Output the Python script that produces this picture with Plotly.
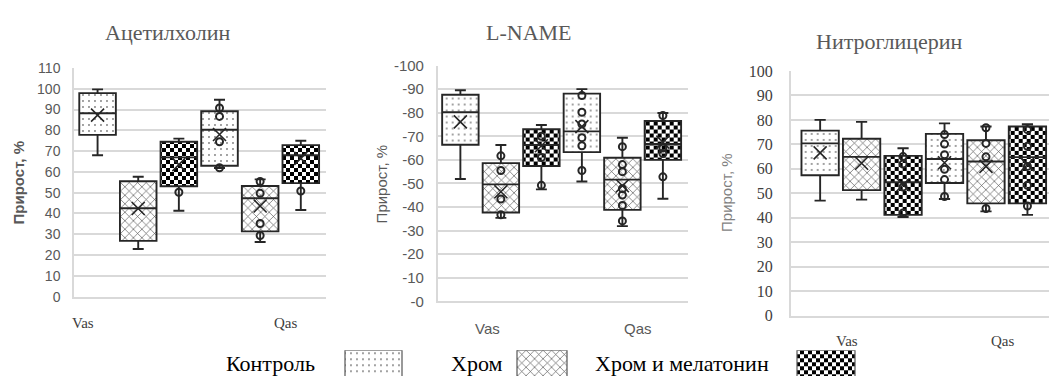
import plotly.graph_objects as go

# ---- data -------------------------------------------------------------
SERIES = ["Контроль", "Хром", "Хром и мелатонин"]
GROUPS = ["Vas", "Qas"]
PANELS = ["Ацетилхолин", "L-NAME", "Нитроглицерин"]

# Each stat list: one row per series, one value per group (Vas, Qas)
ach_low = [[68.0, 61.9], [22.9, 26.3], [41.3, 41.7]]
ach_q1 = [[77.8, 63.0], [26.8, 31.4], [53.1, 54.6]]
ach_med = [[88.2, 80.3], [42.5, 47.3], [67.0, 68.0]]
ach_q3 = [[97.9, 89.2], [55.5, 53.2], [74.5, 72.9]]
ach_high = [[99.7, 94.7], [57.7, 56.4], [76.0, 75.0]]
ach_mean = [[87.3, 78.0], [42.4, 43.6], [63.5, 66.5]]
ach_pts = [[[], [90.8, 86.7, 74.5, 62.0]],
           [[], [55.4, 49.7, 35.2, 29.4]],
           [[50.2], [50.8]]]

lname_low = [[-89.5, -90.0], [-66.3, -69.4], [-74.8, -79.9]]
lname_q1 = [[-87.6, -88.1], [-58.6, -60.9], [-73.0, -76.5]]
lname_med = [[-80.2, -72.1], [-49.6, -51.6], [-66.3, -66.7]]
lname_q3 = [[-66.4, -63.3], [-37.7, -38.8], [-57.4, -60.0]]
lname_high = [[-51.9, -50.8], [-35.4, -31.9], [-47.5, -43.5]]
lname_mean = [[-76.1, -74.1], [-46.5, -49.0], [-66.0, -67.5]]
lname_pts = [[[], [-87.3, -80.2, -75.2, -69.4, -66.0, -55.5]],
             [[-61.7, -55.5, -43.4, -36.7], [-65.6, -58.0, -55.0, -47.8, -45.1, -40.7, -34.1]],
             [[-49.2, -61.0, -70.0], [-78.8, -65.0, -62.7, -52.8]]]

ntg_low = [[47.0, 47.7], [47.4, 42.6], [40.3, 41.2]]
ntg_q1 = [[57.4, 54.2], [51.3, 45.9], [41.2, 45.9]]
ntg_med = [[70.4, 64.0], [64.9, 63.0], [54.5, 64.8]]
ntg_q3 = [[75.6, 74.3], [72.3, 71.7], [65.3, 77.3]]
ntg_high = [[80.0, 78.6], [79.2, 77.3], [68.4, 78.2]]
ntg_mean = [[66.5, 62.5], [62.3, 61.0], [53.5, 61.7]]
ntg_pts = [[[], [74.0, 70.1, 65.8, 59.8, 55.6, 48.7]],
           [[], [76.8, 70.4, 64.9, 43.8]],
           [[65.0, 62.0, 52.6, 42.0], [76.0, 69.2, 61.0, 53.3, 44.8]]]

Y_TICKS_ACH = list(range(0, 111, 10))
Y_TICKS_LNAME = list(range(0, -101, -10))
Y_TICKS_NTG = list(range(0, 101, 10))

# ---- styling -----------------------------------------------------------
W, H = 1049, 385
INK = "#262626"
GRID = "#d9d9d9"
PATTERNS = [
    dict(shape=".", size=6, solidity=0.045, fgcolor="#111111", bgcolor="white", fillmode="replace"),
    dict(shape="x", size=6, solidity=0.2, fgcolor="#4d4d4d", bgcolor="white", fillmode="replace"),
    dict(path="M0,0H4V4H0ZM4,4H8V8H4Z", size=8, fgcolor="#000000", bgcolor="white", fillmode="replace"),
]


def xdom(a, b):
    return [a / W, b / W]


def ydom(top, bottom):
    return [1 - bottom / H, 1 - top / H]


panel_data = [
    (ach_low, ach_q1, ach_med, ach_q3, ach_high, ach_mean, ach_pts),
    (lname_low, lname_q1, lname_med, lname_q3, lname_high, lname_mean, lname_pts),
    (ntg_low, ntg_q1, ntg_med, ntg_q3, ntg_high, ntg_mean, ntg_pts),
]

fig = go.Figure()
BOX_W = 0.9

for p, (low, q1, med, q3, high, mean, pts) in enumerate(panel_data):
    ax = "" if p == 0 else str(p + 1)
    xa, ya = "x" + ax, "y" + ax
    for s in range(len(SERIES)):
        xs = [g * len(SERIES) + s for g in range(len(GROUPS))]
        # patterned body of each box
        fig.add_trace(go.Bar(
            x=xs, base=q1[s], y=[q3[s][g] - q1[s][g] for g in range(len(GROUPS))],
            width=BOX_W, marker=dict(color="white", pattern=PATTERNS[s], line=dict(width=0)),
            xaxis=xa, yaxis=ya, showlegend=False, hoverinfo="skip"))
        # outline, median and whiskers
        fig.add_trace(go.Box(
            x=xs, q1=q1[s], median=med[s], q3=q3[s],
            lowerfence=low[s], upperfence=high[s],
            width=BOX_W, whiskerwidth=0.3, boxpoints=False,
            fillcolor="rgba(0,0,0,0)", line=dict(color=INK, width=1.9),
            xaxis=xa, yaxis=ya, showlegend=False, hoverinfo="skip"))
        # inner data points
        px, py = [], []
        for g in range(len(GROUPS)):
            px += [xs[g]] * len(pts[s][g])
            py += pts[s][g]
        fig.add_trace(go.Scatter(
            x=px, y=py, mode="markers",
            marker=dict(symbol="circle-open", size=7, color=INK, line=dict(width=2, color=INK)),
            xaxis=xa, yaxis=ya, showlegend=False, hoverinfo="skip", cliponaxis=False))
        # means
        fig.add_trace(go.Scatter(
            x=xs, y=mean[s], mode="markers",
            marker=dict(symbol="x-thin-open", size=13, color=INK, line=dict(width=1.6, color=INK)),
            xaxis=xa, yaxis=ya, showlegend=False, hoverinfo="skip", cliponaxis=False))

# legend swatches drawn on a helper strip at the bottom
SWATCH_X = [373.5, 542.0, 826.0]
SWATCH_W = [57.0, 50.0, 58.0]
for s in range(len(SERIES)):
    fig.add_trace(go.Bar(
        x=[SWATCH_X[s]], y=[2.0], base=[-1.0], width=[SWATCH_W[s]],
        marker=dict(color="white", pattern=PATTERNS[s], line=dict(width=1.2, color="#555555")),
        xaxis="x4", yaxis="y4", showlegend=False, hoverinfo="skip"))

axis_common = dict(showgrid=False, zeroline=False, showticklabels=False, ticks="",
                   showline=True, linecolor=GRID, linewidth=1.5, fixedrange=True)
yaxis_common = dict(showgrid=True, gridcolor=GRID, gridwidth=1.5, zeroline=False,
                    showline=True, linecolor=GRID, linewidth=1.5,
                    ticks="outside", tickcolor="rgba(0,0,0,0)", fixedrange=True)

fig.update_layout(
    width=W, height=H, margin=dict(l=0, r=0, t=0, b=0),
    paper_bgcolor="white", plot_bgcolor="white", barmode="overlay", boxmode="overlay",
    xaxis=dict(domain=xdom(74, 326), range=[-0.58, 5.62], anchor="y", **axis_common),
    yaxis=dict(domain=ydom(61.9, 301.7), range=[0, 110], anchor="x",
               tickvals=Y_TICKS_ACH, ticklen=9,
               tickfont=dict(family="Liberation Sans", size=14, color="#595959"), **yaxis_common),
    xaxis2=dict(domain=xdom(437.7, 688), range=[-0.56, 5.62], anchor="y2", **axis_common),
    yaxis2=dict(domain=ydom(59.3, 306.7), range=[0, -100], anchor="x2",
                tickvals=Y_TICKS_LNAME, ticktext=["-" + str(abs(v)) for v in Y_TICKS_LNAME],
                ticklen=9, tickfont=dict(family="Liberation Sans", size=15, color="#595959"),
                **yaxis_common),
    xaxis3=dict(domain=xdom(790.7, 1049), range=[-0.71, 5.52], anchor="y3", **axis_common),
    yaxis3=dict(domain=ydom(65, 321.7), range=[0, 100], anchor="x3",
                tickvals=Y_TICKS_NTG, ticklen=13,
                tickfont=dict(family="Liberation Serif", size=16, color="#404040"), **yaxis_common),
    xaxis4=dict(domain=[0, 1], range=[0, W], anchor="y4", visible=False, fixedrange=True),
    yaxis4=dict(domain=ydom(358, 385), range=[0, 1], anchor="x4", visible=False, fixedrange=True),
)

ann = []
# panel titles
for text, cx, cy in [(PANELS[0], 167, 25), (PANELS[1], 529, 25), (PANELS[2], 889, 34)]:
    ann.append(dict(text=text, x=cx / W, y=1 - cy / H, xref="paper", yref="paper",
                    showarrow=False, xanchor="center", yanchor="middle",
                    font=dict(family="Liberation Serif", size=22, color="#595959")))
# y-axis titles
for cx, cy, txt, col in [(18, 182, "<b>Прирост, %</b>", "#595959"),
                         (381, 184, "Прирост, %", "#595959"),
                         (727, 193, "Прирост, %", "#7f7f7f")]:
    ann.append(dict(text=txt, x=cx / W, y=1 - cy / H, xref="paper", yref="paper",
                    showarrow=False, textangle=-90, xanchor="center", yanchor="middle",
                    font=dict(family="Liberation Sans", size=15, color=col)))
# category labels
for xr, pos, cy, fam, col in [("x", [-0.36, 4.62], 329, "Liberation Serif", "#404040"),
                              ("x2", [0.68, 4.39], 335, "Liberation Sans", "#595959"),
                              ("x3", [0.64, 4.40], 348, "Liberation Serif", "#404040")]:
    for g, name in enumerate(GROUPS):
        ann.append(dict(text=name, x=pos[g], y=1 - cy / H, xref=xr, yref="paper",
                        showarrow=False, xanchor="center", yanchor="middle",
                        font=dict(family=fam, size=15, color=col)))
# legend labels
for name, cx in zip(SERIES, [270, 476, 682]):
    ann.append(dict(text=name, x=cx / W, y=1 - 372 / H, xref="paper", yref="paper",
                    showarrow=False, xanchor="center", yanchor="middle",
                    font=dict(family="Liberation Serif", size=22, color="#000000")))
fig.update_layout(annotations=ann)

fig.write_html("out.html")
